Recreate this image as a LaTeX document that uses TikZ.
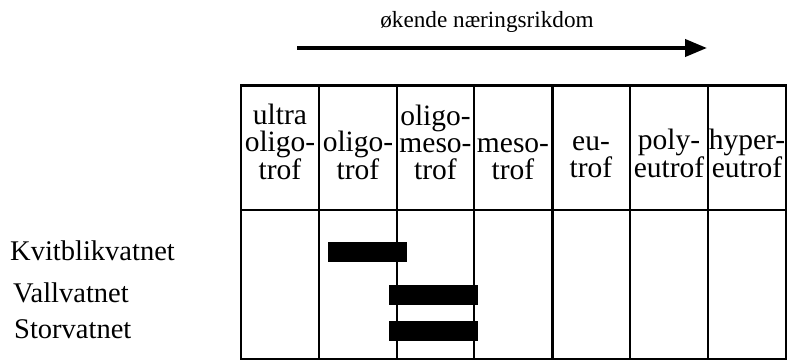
\documentclass[tikz,border=0pt]{standalone}
\usepackage{fontspec}
\setmainfont{Liberation Serif}
\usetikzlibrary{arrows.meta}
\begin{document}
\begin{tikzpicture}[x=1pt,y=-1pt,
  grid/.style={line width=2.2pt},
  head/.style={anchor=south,inner sep=0pt,align=center,font=\fontsize{29.5}{27}\selectfont},
  lake/.style={anchor=base west,inner sep=0pt,font=\fontsize{28.5}{30}\selectfont},
  bar/.style={fill=black},
  trend/.style={line width=4pt,-{Triangle[length=22pt,width=17pt]}}]
\useasboundingbox (0,0) rectangle (787,362);
% title arrow
\node[anchor=base,inner sep=0pt,font=\fontsize{23.2}{26}\selectfont] (title) at (487,27) {økende næringsrikdom};
\coordinate (arrS) at (297,48);
\coordinate (arrE) at (707,48);
\draw[trend] (arrS) -- (arrE);
% table
\draw[grid] (241,85.5) rectangle (786,359);
\draw[grid] (241,210) -- (786,210);
\foreach \x in {319,397,474,630,708} \draw[grid] (\x,85.5) -- (\x,359);
\draw[line width=3pt] (552.5,85) -- (552.5,359);
% headers
\node[head] (h1) at (280,180) {ultra\\oligo-\\trof};
\node[head] (h2) at (358,180) {oligo-\\trof};
\node[head] (h3) at (435.5,180) {oligo-\\meso-\\trof};
\node[head] (h4) at (513,180) {meso-\\trof};
\node[head] (h5) at (591,178) {eu-\\trof};
\node[head] (h6) at (669,178) {poly-\\eutrof};
\node[head] (h7) at (747,178) {hyper-\\eutrof};
% lakes
\node[lake] (l1) at (10,260) {Kvitblikvatnet};
\node[lake] (l2) at (13,302) {Vallvatnet};
\node[lake] (l3) at (14,338) {Storvatnet};
% bars
\fill[bar] (328,242) rectangle (407,262);
\fill[bar] (389,285) rectangle (478,305);
\fill[bar] (389,321) rectangle (478,341);
\end{tikzpicture}
\end{document}
